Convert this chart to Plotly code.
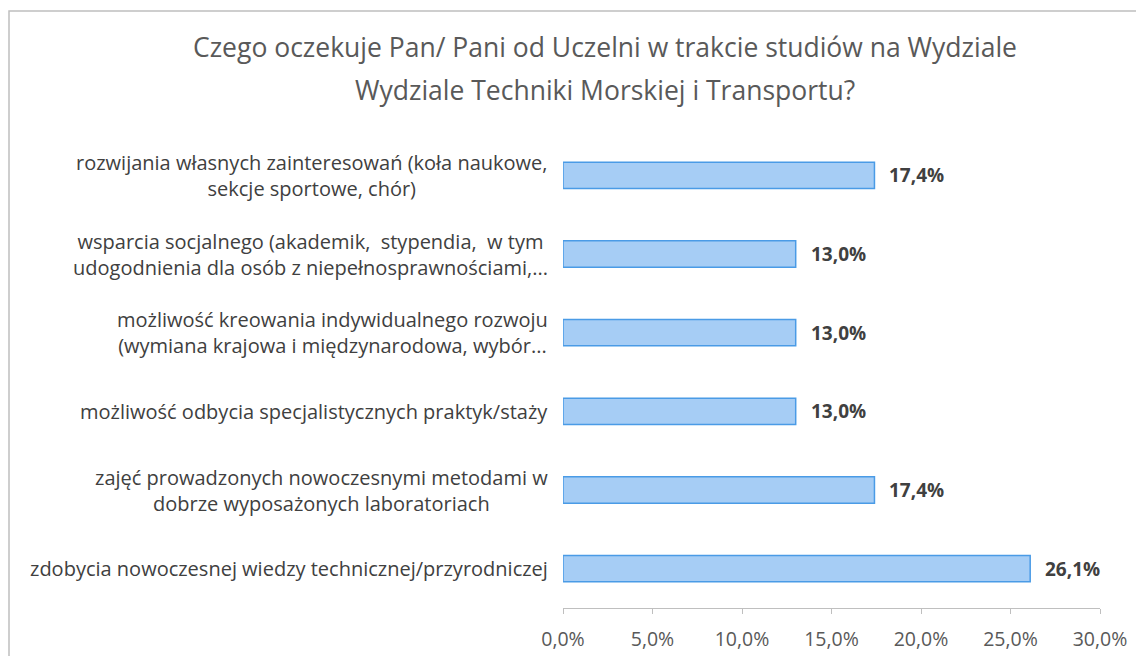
import plotly.graph_objects as go

categories = [
    "zdobycia nowoczesnej wiedzy technicznej/przyrodniczej",
    "zajęć prowadzonych nowoczesnymi metodami w<br>dobrze wyposażonych laboratoriach",
    "możliwość odbycia specjalistycznych praktyk/staży",
    "możliwość kreowania indywidualnego rozwoju<br>(wymiana krajowa i międzynarodowa, wybór...",
    "wsparcia socjalnego (akademik,  stypendia,  w tym<br>udogodnienia dla osób z niepełnosprawnościami,...",
    "rozwijania własnych zainteresowań (koła naukowe,<br>sekcje sportowe, chór)",
]
values = [0.261, 0.174, 0.130, 0.130, 0.130, 0.174]
tick_vals = [0, 0.05, 0.10, 0.15, 0.20, 0.25, 0.30]
title_lines = [
    "Czego oczekuje Pan/ Pani od Uczelni w trakcie studiów na Wydziale",
    "Wydziale Techniki Morskiej i Transportu?",
]

# page body has an 8px margin; figure sized to fit the window
W, H = 1136, 648
L, R, T, B = 555, 44, 128, 48
pw, ph = W - L - R, H - T - B

FONT = "Open Sans"
GRAY = "#595959"
DARK = "#404040"

fig = go.Figure()
fig.add_trace(go.Bar(
    x=values, y=list(range(len(categories))), orientation="h",
    width=0.335,
    marker=dict(color="#A6CDF5", line=dict(color="#4A9BE6", width=1.5)),
    hoverinfo="skip",
))

annotations = []
for i, (c, v) in enumerate(zip(categories, values)):
    annotations.append(dict(
        x=-13 / pw, xref="paper", y=i, yref="y", text=c, showarrow=False,
        xanchor="right", yanchor="middle", align="center",
        font=dict(family=FONT, size=20, color=DARK),
    ))
    annotations.append(dict(
        x=v, xref="x", y=i, yref="y", text=f"<b>{v*100:.1f}%</b>".replace(".", ","),
        showarrow=False, xanchor="left", yanchor="middle", xshift=13,
        font=dict(family=FONT, size=19, color=DARK),
    ))

title_y = [39, 82]
for line, yy in zip(title_lines, title_y):
    annotations.append(dict(
        x=(597 - L) / pw, xref="paper", y=(H - B - yy) / ph, yref="paper",
        text=line, showarrow=False, xanchor="center", yanchor="middle",
        font=dict(family=FONT, size=26.5, color=GRAY),
    ))

fig.update_layout(
    width=W, height=H,
    margin=dict(l=L, r=R, t=T, b=B, autoexpand=False),
    paper_bgcolor="white", plot_bgcolor="white",
    separators=", ",
    showlegend=False,
    xaxis=dict(
        range=[0, 0.30], tickvals=tick_vals, tickformat=".1%",
        showgrid=False, zeroline=False, automargin=False,
        showline=True, linecolor="#BFBFBF", linewidth=1,
        ticks="outside", ticklen=5, tickcolor="#BFBFBF",
        ticklabelstandoff=9,
        tickfont=dict(family=FONT, size=19.5, color=GRAY),
        fixedrange=True,
    ),
    yaxis=dict(
        range=[-0.5, len(categories) - 0.5], showticklabels=False,
        showgrid=False, zeroline=False, showline=False, ticks="",
        automargin=False, fixedrange=True,
    ),
    annotations=annotations,
    shapes=[dict(
        type="rect", xref="paper", yref="paper",
        x0=(1 - L) / pw, x1=(W + 5 - L) / pw,
        y0=(H - B - H - 10) / ph, y1=(H - B - 3) / ph,
        line=dict(color="#BFBFBF", width=1.5), fillcolor="rgba(0,0,0,0)", layer="below",
    )],
)

fig.write_html("out.html")
